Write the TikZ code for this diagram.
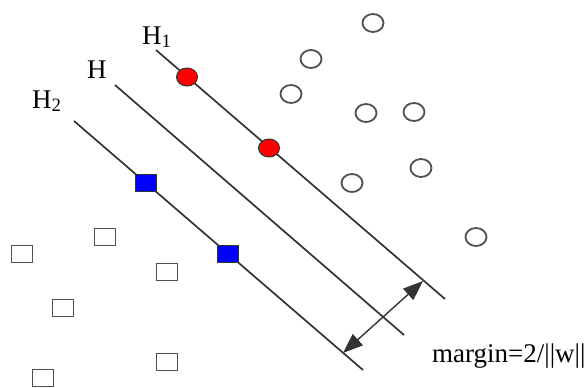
\documentclass[tikz,border=0pt]{standalone}
\usepackage{fontspec}
\setmainfont{Liberation Serif}
\usepackage{tikz}
\usetikzlibrary{arrows.meta,shapes.geometric}
\definecolor{ink}{HTML}{333333}
\definecolor{rim}{HTML}{505050}
\definecolor{posred}{HTML}{FF0000}
\definecolor{negblue}{HTML}{0000FF}
\newcommand{\lblsize}{\fontsize{27}{31}\selectfont}

\begin{document}
\begin{tikzpicture}[x=1pt,y=-1pt,font=\lblsize,
  hyper/.style={draw=ink,line width=1.7pt},
  opendot/.style={ellipse,draw=rim,line width=1.8pt,minimum width=21pt,minimum height=18pt,inner sep=0pt},
  opensq/.style={rectangle,draw=rim,line width=1.8pt,minimum width=21pt,minimum height=17pt,inner sep=0pt},
  supdot/.style={opendot,draw=ink,fill=posred,line width=1pt},
  supsq/.style={opensq,draw=ink,fill=negblue,line width=1pt},
  lbl/.style={anchor=base west,inner sep=0pt}]
  \useasboundingbox (0,0) rectangle (587,388);
  %% the three hyperplanes
  \coordinate (h1a) at (156,50);  \coordinate (h1b) at (445,299);
  \coordinate (hha) at (115,85);  \coordinate (hhb) at (404,335);
  \coordinate (h2a) at (74,121);  \coordinate (h2b) at (363,370);
  \draw[hyper] (h1a) -- (h1b);
  \draw[hyper] (hha) -- (hhb);
  \draw[hyper] (h2a) -- (h2b);
  \node[lbl] (lh1) at (142,44) {H\textsubscript{1}};
  \node[lbl] (lhh) at (87,78) {H};
  \node[lbl] (lh2) at (32,108) {H\textsubscript{2}};
  %% positive class (circles)
  \foreach \x/\y [count=\i] in {373/23, 311/59, 291/94, 366/113, 414/112, 421/168, 352/183, 476/237}{
    \node[opendot] (pos\i) at (\x,\y) {};
  }
  %% negative class (squares)
  \foreach \x/\y [count=\i] in {22/254, 105/237, 167/272, 63/308, 167/362, 43/378}{
    \node[opensq] (neg\i) at (\x,\y) {};
  }
  %% support vectors
  \node[supdot] (sv1) at (187,77) {};
  \node[supdot] (sv2) at (269,148) {};
  \node[supsq] (sv3) at (146,183) {};
  \node[supsq] (sv4) at (228,254) {};
  %% margin arrow
  \coordinate (mlo) at (343,353);
  \coordinate (mhi) at (423,281);
  \draw[draw=ink,line width=1.4pt,{Triangle[length=20pt,width=15pt]}-{Triangle[length=20pt,width=15pt]}] (mlo) -- (mhi);
  \node[lbl] (mtxt) at (432,362) {margin=2/||w||};
\end{tikzpicture}
\end{document}
